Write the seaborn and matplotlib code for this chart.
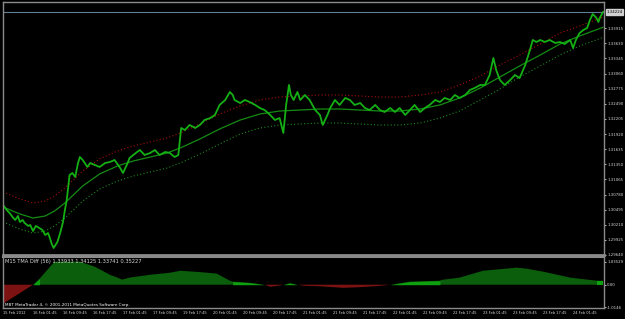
import numpy as np
import matplotlib
matplotlib.use("Agg")
import matplotlib.pyplot as plt
import seaborn as sns

# ---------------- data ----------------
price_bar = [0, 4, 7, 11, 13, 16, 18, 21, 23, 27, 29, 32, 35, 37, 42, 45, 48, 50, 52, 54,
             58, 61, 64, 66, 68, 69, 71, 74, 77, 80, 82, 85, 90, 93, 98, 103, 109, 114, 119, 125,
             128, 132, 135, 139, 143, 146, 151, 157, 162, 167, 173, 178, 183, 187, 190, 194, 199, 205, 210, 215,
             221, 226, 231, 237, 242, 245, 247, 253, 258, 263, 269, 274, 279, 285, 290, 295, 299, 302, 305, 307,
             310, 314, 317, 322, 327, 333, 338, 341, 346, 349, 354, 359, 365, 370, 375, 381, 386, 391, 397, 402,
             407, 413, 418, 423, 429, 434, 439, 445, 450, 455, 461, 466, 471, 477, 482, 487, 493, 498, 503, 509,
             514, 519, 523, 526, 530, 535, 541, 546, 551, 557, 562, 565, 569, 573, 578, 583, 589, 594, 599, 605,
             608, 611, 615, 619, 623, 626, 629, 633, 635, 637, 640]
price_val = [1.30583, 1.30488, 1.30432, 1.30337, 1.30300, 1.30375, 1.30262, 1.30300, 1.30243, 1.30187,
             1.30206, 1.30092, 1.30187, 1.30168, 1.30111, 1.30017, 1.30055, 1.29960, 1.29847, 1.29772,
             1.29885, 1.30055, 1.30262, 1.30488, 1.30677, 1.30828, 1.31148, 1.31186, 1.31110, 1.31374,
             1.31487, 1.31431, 1.31299, 1.31374, 1.31337, 1.31299, 1.31374, 1.31393, 1.31431, 1.31280,
             1.31186, 1.31337, 1.31468, 1.31525, 1.31582, 1.31619, 1.31525, 1.31563, 1.31619, 1.31525,
             1.31582, 1.31563, 1.31487, 1.31525, 1.32034, 1.31996, 1.32091, 1.32034, 1.32091, 1.32185,
             1.32222, 1.32279, 1.32468, 1.32562, 1.32713, 1.32656, 1.32562, 1.32505, 1.32562, 1.32524,
             1.32468, 1.32411, 1.32373, 1.32279, 1.32185, 1.32222, 1.31940, 1.32468, 1.32845, 1.32656,
             1.32562, 1.32713, 1.32562, 1.32656, 1.32562, 1.32373, 1.32279, 1.32091, 1.32279, 1.32411,
             1.32562, 1.32468, 1.32600, 1.32562, 1.32468, 1.32505, 1.32411, 1.32373, 1.32468, 1.32373,
             1.32336, 1.32411, 1.32336, 1.32411, 1.32279, 1.32373, 1.32468, 1.32336, 1.32411, 1.32468,
             1.32562, 1.32524, 1.32600, 1.32562, 1.32656, 1.32600, 1.32656, 1.32750, 1.32788, 1.32845,
             1.32845, 1.33033, 1.33353, 1.33127, 1.32939, 1.32845, 1.32939, 1.33033, 1.32976, 1.33222,
             1.33504, 1.33693, 1.33655, 1.33693, 1.33655, 1.33693, 1.33636, 1.33655, 1.33617, 1.33693,
             1.33542, 1.33693, 1.33825, 1.33881, 1.33919, 1.34070, 1.34183, 1.34107, 1.34032, 1.34126,
             1.34224]

band_bar = [0, 18, 32, 45, 55, 66, 85, 103, 122, 139, 157, 175, 189, 210, 231, 253, 274, 295, 317, 338,
            359, 381, 402, 423, 445, 466, 487, 509, 530, 551, 573, 594, 615, 640]
tma_mid = [1.30545, 1.30413, 1.30337, 1.30375, 1.30469, 1.30620, 1.30941, 1.31167, 1.31318, 1.31412,
           1.31487, 1.31563, 1.31657, 1.31827, 1.32015, 1.32185, 1.32298, 1.32354, 1.32373, 1.32392,
           1.32392, 1.32373, 1.32354, 1.32354, 1.32392, 1.32468, 1.32600, 1.32788, 1.32995, 1.33203,
           1.33410, 1.33617, 1.33768, 1.33933]
tma_up = [1.30828, 1.30696, 1.30620, 1.30658, 1.30752, 1.30903, 1.31224, 1.31450, 1.31601, 1.31695,
          1.31770, 1.31846, 1.31940, 1.32110, 1.32298, 1.32449, 1.32562, 1.32618, 1.32637, 1.32656,
          1.32656, 1.32637, 1.32618, 1.32618, 1.32656, 1.32713, 1.32845, 1.33014, 1.33221, 1.33410,
          1.33617, 1.33824, 1.33957, 1.34125]
tma_dn = [1.30262, 1.30130, 1.30054, 1.30092, 1.30186, 1.30337, 1.30658, 1.30884, 1.31035, 1.31129,
          1.31204, 1.31280, 1.31374, 1.31544, 1.31732, 1.31921, 1.32034, 1.32090, 1.32109, 1.32128,
          1.32128, 1.32109, 1.32090, 1.32090, 1.32128, 1.32223, 1.32355, 1.32562, 1.32769, 1.32996,
          1.33203, 1.33410, 1.33579, 1.33741]

hist_bar = [0, 32, 39, 55, 82, 98, 114, 122, 127, 135, 157, 178, 189, 210, 228, 242, 245, 263, 279, 285,
            293, 299, 306, 314, 322, 338, 363, 381, 402, 413, 434, 466, 468, 487, 512, 548, 559, 576, 605, 623,
            634, 640]
hist_val = [-0.86, 0.0, 0.27, 1.04, 1.04, 0.81, 0.45, 0.32, 0.23, 0.32, 0.45, 0.54, 0.63, 0.57, 0.50, 0.18,
            0.14, 0.09, 0.0, -0.09, -0.05, 0.0, 0.07, 0.0, -0.05, -0.07, -0.14, -0.11, -0.05, 0.0,
            0.14, 0.18, 0.22, 0.32, 0.63, 0.77, 0.72, 0.59, 0.32, 0.23, 0.18, 0.18]
hist_bright = [(32, 39), (245, 279), (299, 314), (413, 466), (634, 640)]

price_ticks = [1.29640, 1.29925, 1.30210, 1.30495, 1.30780, 1.31065, 1.31350, 1.31635,
               1.31920, 1.32205, 1.32490, 1.32775, 1.33060, 1.33345, 1.33630, 1.33915]
last_price = 1.34224
date_labels = ["15 Feb 2012", "16 Feb 01:45", "16 Feb 09:45", "16 Feb 17:45", "17 Feb 01:45",
               "17 Feb 09:45", "19 Feb 17:45", "20 Feb 01:45", "20 Feb 09:45", "20 Feb 17:45",
               "21 Feb 01:45", "21 Feb 09:45", "21 Feb 17:45", "22 Feb 01:45", "22 Feb 09:45",
               "22 Feb 17:45", "23 Feb 01:45", "23 Feb 09:45", "23 Feb 17:45", "24 Feb 01:45"]
date_bars = [0, 32, 64, 96, 128, 160, 192, 224, 256, 288, 320, 352, 384, 416, 448, 480, 512, 544, 576, 608]
sub_ticks = [1.03529, 0.0, -1.0146]
sub_tick_labels = ["1.03529", "0.00", "-1.0146"]
indicator_text = "M15 TMA Diff (56) 1.33933 1.34125 1.33741 0.35227"
copyright_text = "MBT MetaTrader 4, \u00a9 2001-2011 MetaQuotes Software Corp."

# ---------------- figure ----------------
sns.set_theme(style="dark")
plt.rcParams['font.family'] = ['DejaVu Sans']
W, H = 625, 319
fig = plt.figure(figsize=(W / 100, H / 100), dpi=100, facecolor="black")
ax = fig.add_axes([3 / W, 1 - 255 / H, 601 / W, 253 / H])
ax2 = fig.add_axes([3 / W, 1 - 308 / H, 601 / W, 51 / H])

grey = "#8a8a8a"
txt = "#d8d8d8"
for a in (ax, ax2):
    a.set_facecolor("black")
    for s in a.spines.values():
        s.set_color(grey)
        s.set_linewidth(1.0)
    a.grid(False)
    a.set_xlim(0, 641)
    a.yaxis.tick_right()
    a.tick_params(axis="y", colors=txt, labelsize=2.8, length=1.5, width=0.6, pad=0.8)
ax.spines["bottom"].set_linewidth(2.0)
ax2.spines["top"].set_linewidth(1.5)

# main panel
ax.set_ylim(1.29640, 1.34409)
ax.axhline(last_price, color="#5f7f92", lw=0.8, zorder=1)
sns.lineplot(x=band_bar, y=tma_up, ax=ax, color="#a80e0e", lw=0.8, linestyle=(0, (1, 2)))
sns.lineplot(x=band_bar, y=tma_dn, ax=ax, color="#1d8a1d", lw=0.8, linestyle=(0, (1, 2)))
sns.lineplot(x=band_bar, y=tma_mid, ax=ax, color="#148c14", lw=0.9)
sns.lineplot(x=price_bar, y=price_val, ax=ax, color="#14b014", lw=1.3)
ax.set_yticks(price_ticks)
ax.set_yticklabels([f"{v:.5f}" for v in price_ticks])
ax.set_xticks([])
ax.set_xlabel("")
ax.set_ylabel("")
ax.text(1.004, last_price, f"{last_price:.5f}", transform=ax.get_yaxis_transform(),
        fontsize=2.8, color="black", va="center", ha="left",
        bbox=dict(boxstyle="square,pad=0.2", fc="#d0d0d0", ec="#d0d0d0"))

# sub panel histogram
hb = np.array(hist_bar)
hv = np.array(hist_val)
ax2.set_ylim(-1.05, 1.25)
ax2.fill_between(hb, 0, hv, where=hv >= 0, interpolate=True, color="#0b5e0b", lw=0)
ax2.fill_between(hb, 0, hv, where=hv <= 0, interpolate=True, color="#7d1212", lw=0)
for s, e in hist_bright:
    m = (hb >= s) & (hb <= e)
    ax2.fill_between(hb, 0, np.clip(hv, 0, None), where=m, color="#0fa00f", lw=0)
ax2.set_yticks(sub_ticks)
ax2.set_yticklabels(sub_tick_labels)
ax2.set_xticks(date_bars)
ax2.set_xticklabels(date_labels, ha="left")
ax2.tick_params(axis="x", colors=txt, labelsize=2.6, length=1.5, width=0.6, pad=0.8)
ax2.set_xlabel("")
ax2.set_ylabel("")
ax2.text(0.003, 0.97, indicator_text, transform=ax2.transAxes, fontsize=3.7,
         color=txt, va="top", ha="left")
ax2.text(0.003, 0.02, copyright_text, transform=ax2.transAxes, fontsize=3.0,
         color="white", va="bottom", ha="left")

fig.savefig("out.png", dpi=100, facecolor="black")
